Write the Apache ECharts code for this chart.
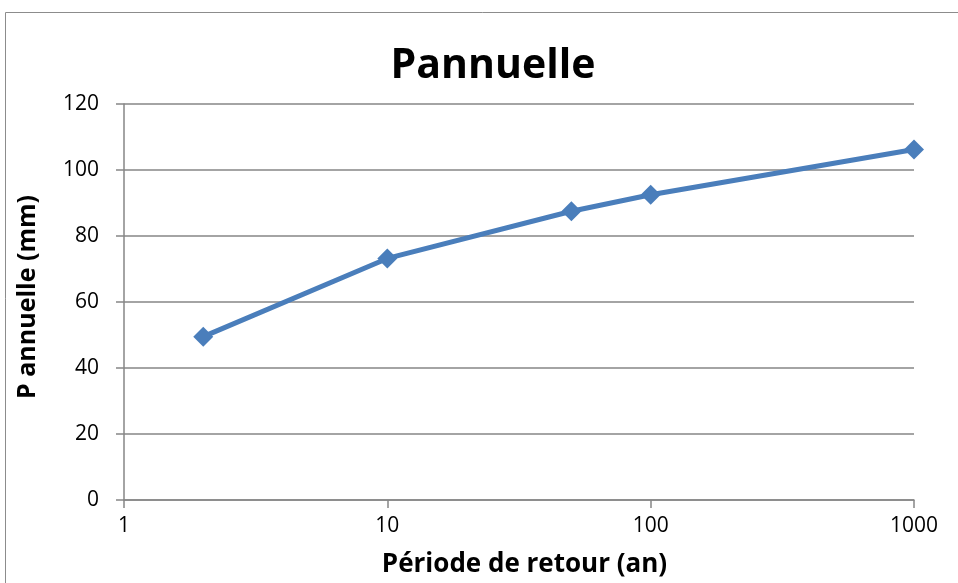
<!DOCTYPE html>
<html>
<head>
<meta charset="utf-8">
<script src="https://cdn.jsdelivr.net/npm/echarts@6/dist/echarts.min.js"></script>
<style>
  html, body { margin: 0; padding: 0; background: #fff; }
  #chart { width: 958px; height: 583px; }
</style>
</head>
<body>
<div id="chart"></div>
<script>
// Return period (years) vs annual precipitation (mm)
const periods = [2, 10, 50, 100, 1000];
const precip = [49.5, 73.2, 87.5, 92.5, 106.2];
const yTicks = [0, 20, 40, 60, 80, 100, 120];
const xTicks = [1, 10, 100, 1000];

const FONT = '"Open Sans", sans-serif';
const AXIS_GREY = '#868686';
const chart = echarts.init(document.getElementById('chart'));

chart.setOption({
  animation: false,
  backgroundColor: '#fff',
  title: {
    text: 'Pannuelle',
    left: 488,
    textAlign: 'center',
    top: 41,
    textStyle: { fontFamily: FONT, fontSize: 41, fontWeight: 'bold', color: '#000' }
  },
  graphic: [{
    type: 'rect',
    shape: { x: 5.5, y: 12.5, width: 960, height: 600 },
    style: { fill: 'none', stroke: '#8c8c8c', lineWidth: 1 },
    silent: true
  }],
  grid: { left: 124, right: 44, top: 104, bottom: 82 },
  xAxis: {
    type: 'log',
    logBase: 10,
    min: xTicks[0],
    max: xTicks[xTicks.length - 1],
    name: 'Période de retour (an)',
    nameLocation: 'middle',
    nameGap: 52,
    nameTextStyle: {
      fontFamily: FONT, fontSize: 26, fontWeight: 'bold', color: '#000',
      padding: [0, 0, 0, 11]
    },
    axisLine: { lineStyle: { color: AXIS_GREY, width: 1.5 } },
    axisTick: { show: true, inside: false, length: 8, lineStyle: { color: AXIS_GREY, width: 1.5 } },
    minorTick: { show: false },
    splitLine: { show: false },
    axisLabel: {
      margin: 16,
      fontFamily: FONT, fontSize: 21, color: '#000',
      formatter: v => String(Math.round(v))
    }
  },
  yAxis: {
    type: 'value',
    min: yTicks[0],
    max: yTicks[yTicks.length - 1],
    interval: 20,
    name: 'P annuelle (mm)',
    nameLocation: 'middle',
    nameGap: 84,
    nameTextStyle: {
      fontFamily: FONT, fontSize: 25, fontWeight: 'bold', color: '#000',
      padding: [0, 0, 0, 10]
    },
    axisLine: { show: true, lineStyle: { color: AXIS_GREY, width: 1.5 } },
    axisTick: { show: true, inside: false, length: 8, lineStyle: { color: AXIS_GREY, width: 1.5 } },
    splitLine: { show: true, lineStyle: { color: AXIS_GREY, width: 1.5 } },
    axisLabel: { margin: 25, fontFamily: FONT, fontSize: 21, color: '#000' }
  },
  series: [{
    type: 'line',
    data: periods.map((p, i) => [p, precip[i]]),
    symbol: 'diamond',
    symbolSize: 20,
    lineStyle: { color: '#4a7ebb', width: 5 },
    itemStyle: { color: '#4a7ebb' },
    z: 5
  }]
});
</script>
</body>
</html>
